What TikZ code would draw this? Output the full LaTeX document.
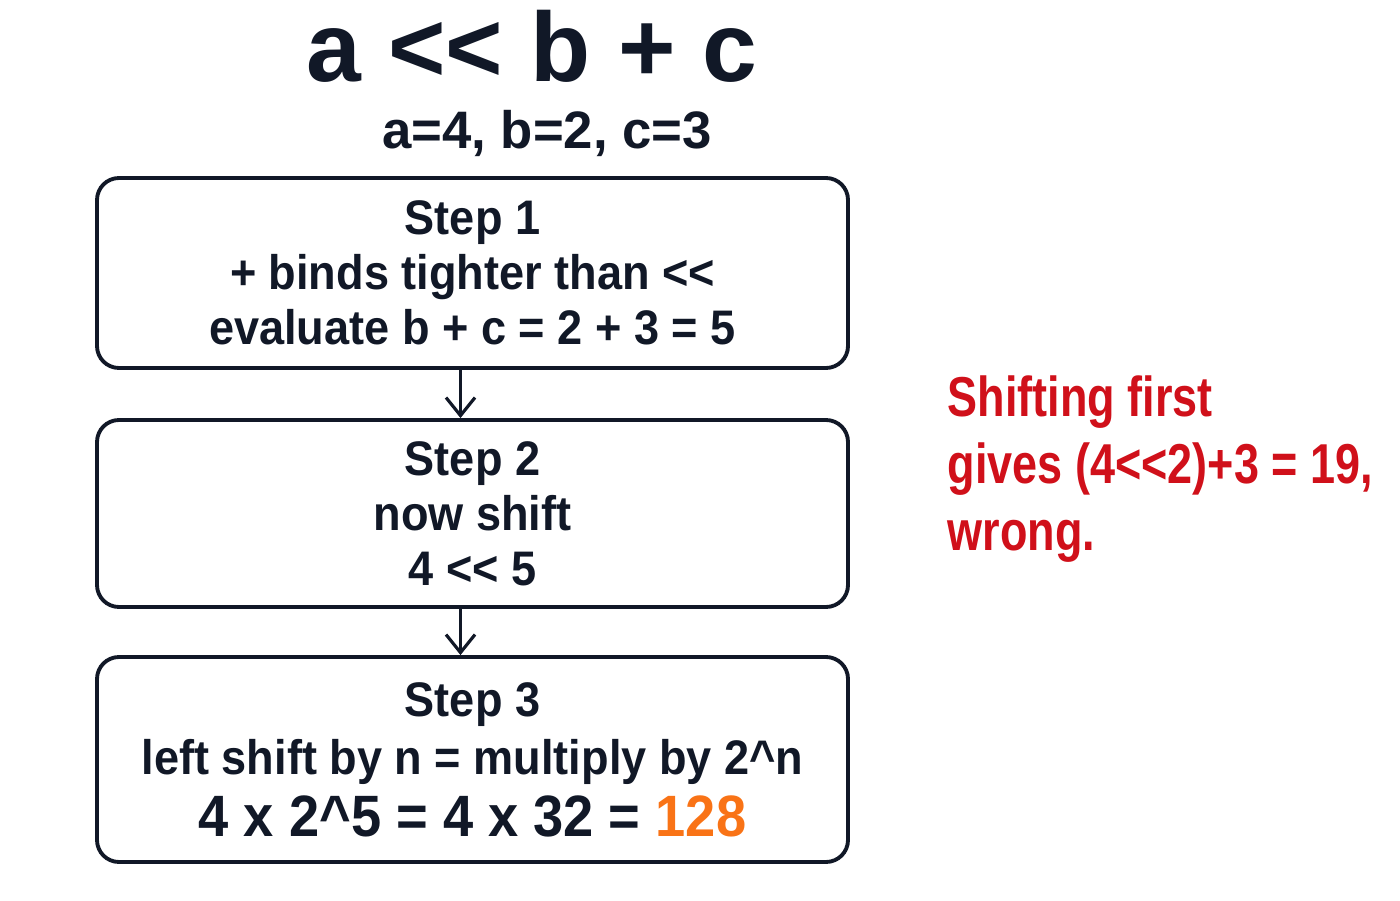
\documentclass[tikz,border=0pt]{standalone}
\usepackage{fontspec}
\setmainfont{Liberation Sans}[FakeStretch=0.93]
\newfontfamily\titlefont{Liberation Sans}
\newfontfamily\notefont{Liberation Sans}[FakeStretch=0.8]
\usetikzlibrary{arrows.meta}
\usepackage{xcolor}
\definecolor{ink}{RGB}{17,24,39}
\definecolor{warnred}{RGB}{208,16,26}
\definecolor{resultorange}{RGB}{249,115,22}

\begin{document}
\begin{tikzpicture}[
		stepbox/.style={draw=ink,line width=1.1pt,rounded corners=2.2mm,minimum width=7.51cm,text=ink,align=center,font=\bfseries\fontsize{13.8}{15.6}\selectfont},
		flow/.style={-{Straight Barb[length=1.8mm,width=2.9mm]},ink,line width=0.9pt}]
			\useasboundingbox[fill=white] (0,0) rectangle (14,9);
			\node(title) at (5.32,8.18)[anchor=base,text=ink,font=\titlefont\bfseries\fontsize{28}{32}\selectfont]{a <{}< b + c};
			\node(values) at (5.47,7.51)[anchor=base,text=ink,font=\titlefont\bfseries\fontsize{15}{17}\selectfont]{a=4, b=2, c=3};
			
			\node(s1) at (4.725,6.27)[stepbox,minimum height=1.90cm]{Step 1\\+ binds tighter than <{}<\\evaluate b + c = 2 + 3 = 5};
			\node(s2) at (4.725,3.865)[stepbox,minimum height=1.87cm]{Step 2\\now shift\\4 <{}< 5};
			\node(s3) at (4.725,1.405)[stepbox,minimum height=2.05cm]{Step 3\\[1pt]left shift by n = multiply by 2\textasciicircum n\\[2pt]{\fontsize{16.6}{18}\selectfont 4 x 2\textasciicircum 5 = 4 x 32 = \textcolor{resultorange}{128}}};
			
			\node(note) at (9.47,4.31)[anchor=west,inner sep=0pt,align=left,text=warnred,font=\notefont\bfseries\fontsize{16}{19}\selectfont]{Shifting first\\gives (4<{}<2)+3 = 19,\\wrong.};
			
			\draw[flow]([xshift=-0.12cm]s1.south) to ([xshift=-0.12cm]s2.north);
			\draw[flow]([xshift=-0.12cm]s2.south) to ([xshift=-0.12cm]s3.north);
		\end{tikzpicture}
\end{document}
